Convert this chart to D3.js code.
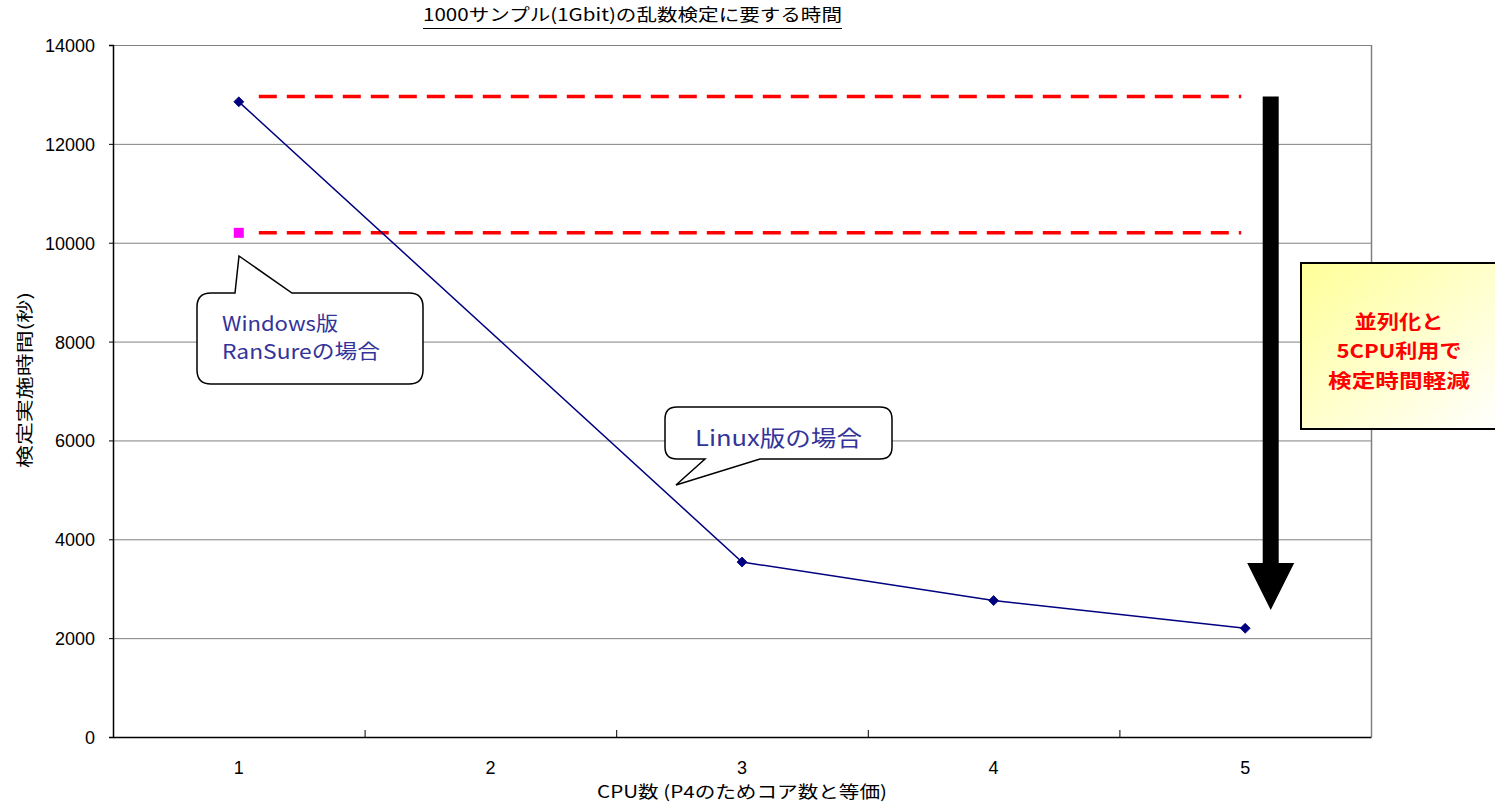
<!DOCTYPE html>
<html>
<head>
<meta charset="utf-8">
<script src="https://cdn.jsdelivr.net/npm/d3@7"></script>
<style>
  html, body { margin: 0; padding: 0; background: #fff; }
  svg { display: block; }
</style>
</head>
<body>
<svg id="chart" width="1495" height="804"></svg>
<script>
// Categories on the x axis (number of CPUs)
const categories = ["1", "2", "3", "4", "5"];
// Linux build: test time in seconds per CPU count
const linuxCpu = ["1", "3", "4", "5"];
const linuxSeconds = [12850, 3540, 2760, 2200];
// Windows build (RanSure): single CPU
const windowsCpu = ["1"];
const windowsSeconds = [10200];
// Y axis ticks
const yTicks = [0, 2000, 4000, 6000, 8000, 10000, 12000, 14000];
// Dashed reference levels (seconds)
const referenceLevels = [12960, 10200];
// Arrow span (seconds): from the top level down to the reduced time
const arrowSpan = [12960, 2570];

const title = "1000サンプル(1Gbit)の乱数検定に要する時間";
const xTitle = "CPU数 (P4のためコア数と等価)";
const yTitle = "検定実施時間(秒)";
const windowsNote = ["Windows版", "RanSureの場合"];
const linuxNote = "Linux版の場合";
const boxNote = ["並列化と", "5CPU利用で", "検定時間軽減"];

const JP = "'Noto Sans CJK JP', 'Noto Sans', sans-serif";
const NUM = "'Liberation Sans', Arial, sans-serif";

const svg = d3.select("#chart");
const plot = { left: 113, right: 1371, top: 45, bottom: 737 };

const x = d3.scaleBand().domain(categories).range([plot.left, plot.right]).paddingInner(0).paddingOuter(0);
const cx = c => x(c) + x.bandwidth() / 2;
const y = d3.scaleLinear().domain([0, 14000]).range([plot.bottom, plot.top]);

// stretch a text element to a target width
function fit(sel, w) {
  sel.attr("textLength", w).attr("lengthAdjust", "spacingAndGlyphs");
  return sel;
}

// gridlines
svg.append("g")
  .selectAll("line")
  .data(yTicks.filter(d => d > 0))
  .join("line")
  .attr("x1", plot.left).attr("x2", plot.right)
  .attr("y1", d => y(d) + 0.5).attr("y2", d => y(d) + 0.5)
  .attr("stroke", "#808080").attr("stroke-width", 1);

// right border of plot area
svg.append("line")
  .attr("x1", plot.right + 0.5).attr("x2", plot.right + 0.5)
  .attr("y1", plot.top).attr("y2", plot.bottom)
  .attr("stroke", "#808080").attr("stroke-width", 1.5);

// y axis
const yAxis = svg.append("g")
  .attr("transform", `translate(${plot.left},0)`)
  .call(d3.axisLeft(y).tickValues(yTicks).tickSize(4).tickPadding(14).tickFormat(d3.format("d")));
yAxis.select(".domain").attr("stroke", "#000").attr("stroke-width", 1.5);
yAxis.selectAll(".tick line").attr("stroke", "#000");
yAxis.selectAll(".tick text")
  .attr("font-family", NUM).attr("font-size", 18).attr("fill", "#000").attr("dy", "0.36em");

// x axis
const xAxis = svg.append("g")
  .attr("transform", `translate(0,${plot.bottom})`)
  .call(d3.axisBottom(x).tickSize(0).tickPadding(24));
xAxis.select(".domain").attr("stroke", "#000").attr("stroke-width", 1.5);
xAxis.selectAll(".tick text")
  .attr("font-family", NUM).attr("font-size", 18).attr("fill", "#000");
// category boundary ticks (inside)
svg.append("g")
  .selectAll("line")
  .data(categories.slice(1))
  .join("line")
  .attr("x1", d => x(d) + 0.5).attr("x2", d => x(d) + 0.5)
  .attr("y1", plot.bottom - 7).attr("y2", plot.bottom)
  .attr("stroke", "#000").attr("stroke-width", 1);

// title
const t = svg.append("text")
  .attr("x", 423).attr("y", 21)
  .attr("font-family", JP).attr("font-size", 17).attr("fill", "#000")
  .text(title);
fit(t, 419);
svg.append("line").attr("x1", 423).attr("x2", 842).attr("y1", 28.5).attr("y2", 28.5)
  .attr("stroke", "#000").attr("stroke-width", 1.2);

// axis titles
fit(svg.append("text")
  .attr("x", 597).attr("y", 798)
  .attr("font-family", JP).attr("font-size", 17).attr("fill", "#000")
  .text(xTitle), 290);

fit(svg.append("text")
  .attr("transform", `translate(31,380) rotate(-90)`)
  .attr("text-anchor", "middle")
  .attr("font-family", JP).attr("font-size", 17).attr("fill", "#000")
  .text(yTitle), 176);

// dashed reference levels
svg.append("g")
  .selectAll("line")
  .data(referenceLevels)
  .join("line")
  .attr("x1", cx("1") + 20).attr("x2", cx("5") - 4)
  .attr("y1", d => y(d)).attr("y2", d => y(d))
  .attr("stroke", "#FF0000").attr("stroke-width", 3.5)
  .attr("stroke-dasharray", "18,10");

// Linux series line
const linuxPts = linuxCpu.map((c, i) => [cx(c), y(linuxSeconds[i])]);
svg.append("path")
  .attr("d", d3.line()(linuxPts))
  .attr("fill", "none").attr("stroke", "#000080").attr("stroke-width", 1.5);
svg.append("g")
  .selectAll("path")
  .data(linuxPts)
  .join("path")
  .attr("d", d => `M${d[0]},${d[1] - 5}L${d[0] + 5},${d[1]}L${d[0]},${d[1] + 5}L${d[0] - 5},${d[1]}Z`)
  .attr("fill", "#000080").attr("stroke", "#000080").attr("stroke-width", 0.8);

// Windows point
svg.append("g")
  .selectAll("rect")
  .data(windowsCpu.map((c, i) => [cx(c), y(windowsSeconds[i])]))
  .join("rect")
  .attr("x", d => d[0] - 5).attr("y", d => d[1] - 5)
  .attr("width", 10).attr("height", 10)
  .attr("fill", "#FF00FF");

// big downward arrow
{
  const ax = cx("5") + 25.5;
  const top = y(arrowSpan[0]);
  const tip = y(arrowSpan[1]);
  const headTop = tip - 47;
  const sw = 8, hw = 23.5;
  svg.append("path")
    .attr("d", `M${ax - sw},${top}L${ax + sw},${top}L${ax + sw},${headTop}L${ax + hw},${headTop}L${ax},${tip}L${ax - hw},${headTop}L${ax - sw},${headTop}Z`)
    .attr("fill", "#000");
}

// callout bubbles
function callout(box, tail, r) {
  const [x0, y0, x1, y1] = box;
  const [ta, tip, tb] = tail;
  let d;
  if (tip[1] < y0) {
    // tail on top edge
    d = `M${x0 + r},${y0}L${ta[0]},${y0}L${tip[0]},${tip[1]}L${tb[0]},${y0}L${x1 - r},${y0}` +
        `Q${x1},${y0} ${x1},${y0 + r}L${x1},${y1 - r}Q${x1},${y1} ${x1 - r},${y1}` +
        `L${x0 + r},${y1}Q${x0},${y1} ${x0},${y1 - r}L${x0},${y0 + r}Q${x0},${y0} ${x0 + r},${y0}Z`;
  } else {
    // tail on bottom edge
    d = `M${x0 + r},${y0}L${x1 - r},${y0}Q${x1},${y0} ${x1},${y0 + r}L${x1},${y1 - r}Q${x1},${y1} ${x1 - r},${y1}` +
        `L${tb[0]},${y1}L${tip[0]},${tip[1]}L${ta[0]},${y1}` +
        `L${x0 + r},${y1}Q${x0},${y1} ${x0},${y1 - r}L${x0},${y0 + r}Q${x0},${y0} ${x0 + r},${y0}Z`;
  }
  svg.append("path").attr("d", d).attr("fill", "#fff").attr("stroke", "#000").attr("stroke-width", 1.5);
}

callout([197, 293, 423, 384], [[235, 0], [239, 256], [292, 0]], 14);
fit(svg.append("text").attr("x", 222).attr("y", 331)
  .attr("font-family", JP).attr("font-size", 20).attr("fill", "#333399")
  .text(windowsNote[0]), 116);
fit(svg.append("text").attr("x", 222).attr("y", 359)
  .attr("font-family", JP).attr("font-size", 20).attr("fill", "#333399")
  .text(windowsNote[1]), 158);

callout([665, 407, 892, 459], [[705, 0], [676, 485], [760, 0]], 12);
fit(svg.append("text").attr("x", 695).attr("y", 446)
  .attr("font-family", JP).attr("font-size", 22).attr("fill", "#333399")
  .text(linuxNote), 167);

// highlighted note box
const defs = svg.append("defs");
const grad = defs.append("linearGradient").attr("id", "noteFill")
  .attr("x1", "0%").attr("y1", "0%").attr("x2", "100%").attr("y2", "100%");
grad.append("stop").attr("offset", "0%").attr("stop-color", "#FFFF99");
grad.append("stop").attr("offset", "100%").attr("stop-color", "#FFFFFF");
svg.append("rect")
  .attr("x", 1301).attr("y", 263).attr("width", 200).attr("height", 166)
  .attr("fill", "url(#noteFill)").attr("stroke", "#000").attr("stroke-width", 2);
const noteWidths = [89, 125, 142];
const noteY = [329, 358, 388];
boxNote.forEach((s, i) => {
  fit(svg.append("text").attr("x", 1399).attr("y", noteY[i])
    .attr("text-anchor", "middle")
    .attr("font-family", JP).attr("font-size", 19).attr("font-weight", "bold").attr("fill", "#FF0000")
    .text(s), noteWidths[i]);
});
</script>
</body>
</html>
